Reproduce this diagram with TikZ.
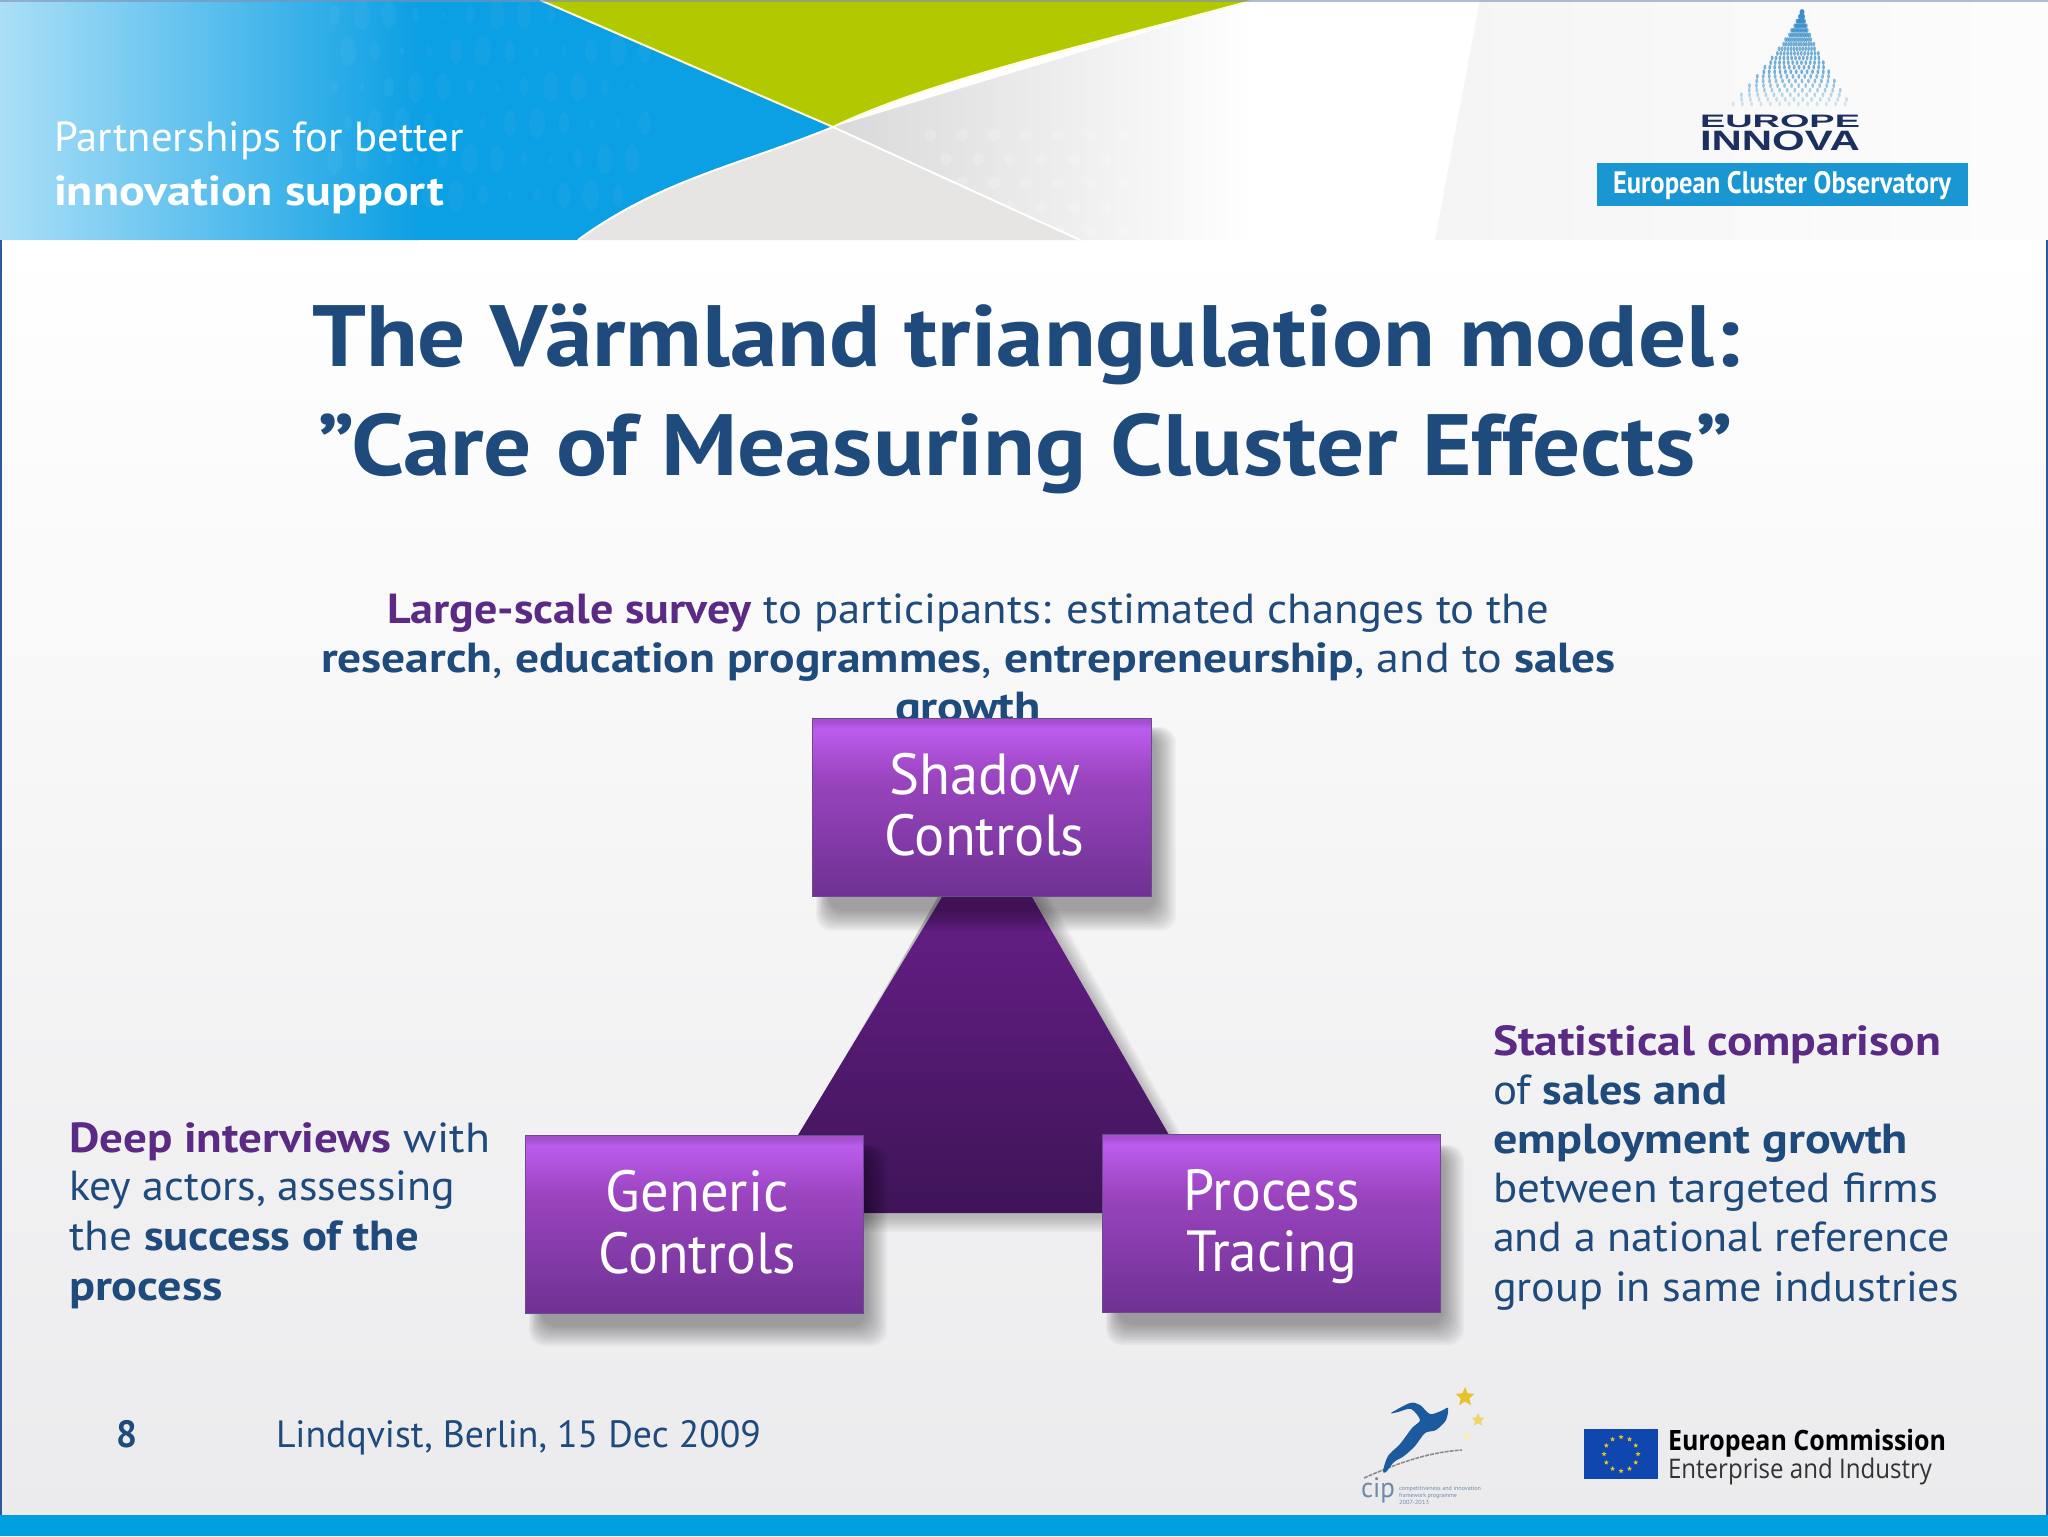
\documentclass[tikz,border=0pt]{standalone}
\usepackage{graphicx}
\usepackage{fontspec}
\setmainfont{PT Sans}
\newfontfamily\logofont{Liberation Sans}
\newfontfamily\eufont{Open Sans}
\usetikzlibrary{shapes.geometric}
\definecolor{navy}{HTML}{1F4A7C}
\definecolor{plum}{HTML}{5A2A84}
\definecolor{skyb}{HTML}{0B9FE3}
\definecolor{skyl}{HTML}{ABDFF7}
\definecolor{limeg}{HTML}{B2C800}
\definecolor{wedge}{HTML}{E6E5E3}
\definecolor{bandb}{HTML}{009FDF}
\definecolor{obsb}{HTML}{1A96D2}
\definecolor{pagebot}{HTML}{EBEBED}
\definecolor{siderule}{HTML}{2B5A9F}
\definecolor{toprule}{HTML}{8090B5}
\definecolor{bxt}{HTML}{BC5CEE}
\definecolor{bxs}{HTML}{A350CC}
\definecolor{bxm}{HTML}{9A44BE}
\definecolor{bxb}{HTML}{6E3292}
\definecolor{bxe}{HTML}{6A4A90}
\definecolor{trit}{HTML}{661F87}
\definecolor{trib}{HTML}{3E1457}
\definecolor{logod}{HTML}{1C2F5E}
\definecolor{dropb}{HTML}{3A8FC9}
\definecolor{flagb}{HTML}{0F47AF}
\definecolor{stary}{HTML}{E8C22A}
\definecolor{cipb}{HTML}{1B5A9C}
\definecolor{cipg}{HTML}{6D8AA8}
\pgfdeclareverticalshading{boxsh}{100bp}{color(0bp)=(bxb); color(25bp)=(bxb); color(58bp)=(bxm); color(72bp)=(bxt); color(74bp)=(bxs); color(100bp)=(bxs)}
\newlength\fitlen
\newcommand\fitw[2]{\settowidth\fitlen{#2}\pgfmathsetmacro\fitr{(#1*0.5)/\the\fitlen}\scalebox{\fitr}[1]{#2}}
% bold runs inside mixed lines are a little wider in the reference
\newcommand\nv[1]{\scalebox{1.03}[1]{\textcolor{navy}{\bfseries #1}}}
\newcommand\pl[1]{\scalebox{1.03}[1]{\textcolor{plum}{\bfseries #1}}}
\newcommand\bl[4]{\hspace*{#1}\raisebox{#2}[\height][\depth]{\fitw{#3}{#4}}}
\newcommand\softshadow[4]{%
  \foreach \e in {0,2,...,20}{%
    \fill[black,opacity=0.035,rounded corners=8pt]
      ({#1+16-\e*0.6},{#2+16-\e*0.3}) rectangle ({#3+4+\e},{#4+14+\e});
  }}
\tikzset{
  x=0.5pt,y=-0.5pt,
  tline/.style={anchor=base west,inner sep=0pt,outer sep=0pt},
  titletxt/.style={tline,text=navy,font=\fontsize{43.5}{48}\selectfont\bfseries},
  bodytxt/.style={tline,text=navy,font=\fontsize{21}{25}\selectfont},
  headtxt/.style={tline,text=white,font=\fontsize{21}{25}\selectfont},
  boxnode/.style={draw=bxe,line width=0.4pt,shading=boxsh,text=white,align=center,
    inner sep=0pt,minimum width=#1,minimum height=89pt,
    font=\fontsize{29}{30.5}\selectfont},
}
\begin{document}
\begin{tikzpicture}
\useasboundingbox (0,0) rectangle (2048,1536);
% page background
\shade[top color=white,bottom color=pagebot] (0,240) rectangle (2048,1520);
\fill[white] (0,0) rectangle (2048,240);
% right pale panel of the banner
\shade[left color=black!4,right color=black!1] (1480,0) -- (2048,0) -- (2048,240) -- (1435,240) -- cycle;
% grey wedge area
\shade[left color=black!15,right color=white] (833,127) -- (1254,0) -- (1254,240) -- (1080,240) -- cycle;
\fill[wedge] (578,240) .. controls (660,180) and (740,165) .. (833,127) -- (1080,240) -- cycle;
\begin{scope}
  \clip (833,127) -- (1080,240) -- (1240,240) -- (1240,127) -- cycle;
  \foreach \dx in {0,...,6}{\foreach \dy in {0,...,4}{
    \fill[white,opacity=0.18] ({930+\dx*32+mod(\dy,2)*16},{135+\dy*24}) circle[radius=6];
  }}
\end{scope}
% blue area
\begin{scope}
  \clip (0,0) -- (540,0) -- (833,127) .. controls (740,165) and (660,180) .. (578,240) -- (0,240) -- cycle;
  \fill[skyb] (0,0) rectangle (840,240);
  \shade[left color=skyl,right color=skyb] (0,0) rectangle (420,240);
  \foreach \dx in {0,...,11}{\foreach \dy in {0,...,5}{
    \pgfmathsetmacro\rx{5+3*sin(\dx*70+\dy*110)}
    \fill[white,opacity=0.04] ({335+\dx*27+mod(\dy,2)*13},{15+\dy*36}) ellipse[x radius=\rx,y radius=2*\rx];
  }}
\end{scope}
% green area
\fill[limeg] (540,0) -- (833,127) .. controls (930,80) and (1090,45) .. (1254,0) -- cycle;
\draw[white!85!yellow,line width=1pt] (540,0) -- (833,127);
\draw[white!85!yellow,line width=1pt] (833,127) .. controls (930,80) and (1090,45) .. (1254,0);
\draw[white,line width=1pt] (833,127) .. controls (740,165) and (660,180) .. (578,240);
\draw[white,line width=1pt] (833,127) -- (1080,240);
% top and side rules, bottom band
\fill[toprule,opacity=0.6] (0,0) rectangle (2048,2);
\fill[siderule] (0,240) rectangle (2,1520);
\fill[siderule] (2046,240) rectangle (2048,1520);
\fill[bandb] (0,1515) rectangle (2048,1536);
% banner text
\node[headtxt] (head1) at (54,151) {\fitw{410}{Partnerships for better}};
\node[headtxt,font=\fontsize{21}{25}\selectfont\bfseries] (head2) at (54,205) {\fitw{390}{innovation support}};
% Europe Innova logo
\foreach \r in {0,...,20}{
  \pgfmathsetmacro\yy{12+\r*4.6}
  \pgfmathsetmacro\hw{1+pow(\r/20,1.3)*55}
  \pgfmathsetmacro\cx{1802-\r*0.65}
  \pgfmathsetmacro\op{\r<13?0.7:0.7-(\r-13)*0.07}
  \pgfmathsetmacro\jit{mod(\r,2)*0.5}
  \foreach \k in {-6,...,6}{
    \pgfmathsetmacro\xx{\cx+(\k+\jit)*\hw/6}
    \fill[dropb,opacity=\op] (\xx,\yy) ellipse[x radius=1.4,y radius=2.4];
  }
}
\node[tline,text=logod,font=\logofont\fontsize{9}{10}\selectfont\bfseries] (europe) at (1700,127) {\fitw{160}{EUROPE}};
\node[tline,text=logod,font=\logofont\fontsize{14}{15}\selectfont\bfseries] (innova) at (1700,150) {\fitw{160}{INNOVA}};
\fill[obsb] (1597,163) rectangle (1968,206);
\node[tline,text=white,font=\fontsize{15.5}{18}\selectfont\bfseries] (obs) at (1613,193) {\fitw{338}{European Cluster Observatory}};
% title
\node[titletxt] (title1) at (312,366) {\fitw{1428}{The Värmland triangulation model:}};
\node[titletxt] (title2) at (317,475) {\fitw{1416}{”Care of Measuring Cluster Effects”}};
% survey text
\node[bodytxt] (sv1) at (387,623) {\fitw{1162}{\pl{Large-scale survey} to participants: estimated changes to the}};
\node[bodytxt] (sv2) at (321,672) {\fitw{1295}{\nv{research}, \nv{education programmes}, \nv{entrepreneurship}, and to \nv{sales}}};
\node[bodytxt] (sv3) at (895,721) {\fitw{146}{\nv{growth}}};
% triangle with its soft shadow
\foreach \e in {0,2,...,14}{
  \fill[black,opacity=0.03] (942,890) -- ({1032+\e},890) -- ({1169+\e*0.9},1135) -- ({1218+\e*0.9},{1218+\e}) -- (750,{1218+\e}) -- cycle;
}
\shade[top color=trit,bottom color=trib] (942,897) -- (1032,897) -- (1169,1135) -- (1218,1213) -- (750,1213) -- (798,1135) -- cycle;
\softshadow{812}{717}{1152}{897}
\softshadow{525}{1135}{863}{1312}
\softshadow{1102}{1135}{1440}{1311}
% boxes
\node[boxnode=169.5pt] (shadowbox) at (982,807) {\bl{2.6pt}{1.3pt}{191}{Shadow}\\\bl{2.6pt}{1.3pt}{200}{Controls}};
\node[boxnode=169pt] (genericbox) at (694,1224) {\bl{3.3pt}{1.3pt}{183}{Generic}\\\bl{3.3pt}{0.8pt}{198}{Controls}};
\node[boxnode=169pt] (processbox) at (1271,1223) {\bl{0.6pt}{-2pt}{177}{Process}\\\bl{0.6pt}{-2pt}{171}{Tracing}};
% left text
\node[bodytxt] (lf1) at (69,1152) {\fitw{421}{\pl{Deep interviews} with}};
\node[bodytxt] (lf2) at (69,1200) {\fitw{386}{key actors, assessing}};
\node[bodytxt] (lf3) at (69,1250) {\fitw{350}{the \nv{success of the}}};
\node[bodytxt] (lf4) at (69,1300) {\fitw{154}{\nv{process}}};
% right text
\node[bodytxt] (rt1) at (1493,1055) {\fitw{448}{\pl{Statistical comparison}}};
\node[bodytxt] (rt2) at (1493,1104) {\fitw{234}{of \nv{sales and}}};
\node[bodytxt] (rt3) at (1493,1153) {\fitw{415}{\nv{employment growth}}};
\node[bodytxt] (rt4) at (1493,1202) {\fitw{445}{between targeted firms}};
\node[bodytxt] (rt5) at (1493,1251) {\fitw{457}{and a national reference}};
\node[bodytxt] (rt6) at (1493,1301) {\fitw{466}{group in same industries}};
% footer
\node[bodytxt,font=\fontsize{19}{22}\selectfont\bfseries] (pageno) at (116,1447) {\fitw{21}{8}};
\node[bodytxt,font=\fontsize{19}{22}\selectfont] (foot) at (276,1447) {\fitw{485}{Lindqvist, Berlin, 15 Dec 2009}};
% CIP logo
\draw[black!45,line width=0.8pt,dash pattern=on 2pt off 0.5pt] (1364,1478) .. controls (1400,1462) and (1430,1452) .. (1462,1450);
\fill[cipb] plot[smooth cycle,tension=0.5] coordinates {(1391,1413) (1410,1403) (1420,1405) (1430,1414) (1441,1411) (1448,1408) (1446,1420) (1436,1430) (1425,1433) (1415,1446) (1404,1456) (1394,1462) (1386,1472) (1383,1471) (1388,1456) (1400,1444) (1412,1428) (1420,1420) (1411,1409) (1398,1412)};
\node[star,star points=5,star point ratio=2.2,fill=stary,inner sep=0pt,minimum size=10pt] (star1) at (1465,1397) {};
\node[star,star points=5,star point ratio=2.2,fill=stary!70!white,inner sep=0pt,minimum size=7pt] (star2) at (1478,1420) {};
\node[star,star points=5,star point ratio=2.2,fill=stary!30!white,inner sep=0pt,minimum size=5pt] (star3) at (1467,1436) {};
\node[tline,text=cipg,font=\fontsize{14}{15}\selectfont] (cip) at (1361,1497) {\fitw{34}{cip}};
\node[tline,text=cipg,font=\fontsize{3}{4}\selectfont] (cipa) at (1399,1490) {\fitw{82}{competitiveness and innovation}};
\node[tline,text=cipg,font=\fontsize{3}{4}\selectfont] (cipb) at (1399,1497) {\fitw{58}{framework programme}};
\node[tline,text=cipg,font=\fontsize{3}{4}\selectfont] (cipc) at (1399,1504) {\fitw{30}{2007-2013}};
% EU flag
\fill[flagb] (1584,1429) rectangle (1658,1479);
\foreach \a in {0,30,...,330}{
  \node[star,star points=5,star point ratio=2.3,fill=stary,inner sep=0pt,minimum size=2.6pt] (fs\a) at ({1621+17*cos(\a)},{1454+17*sin(\a)}) {};
}
\node[tline,text=black,font=\eufont\fontsize{14}{16}\selectfont\bfseries] (ec1) at (1668,1450) {\fitw{278}{European Commission}};
\node[tline,text=black!80,font=\eufont\fontsize{13.5}{16}\selectfont] (ec2) at (1668,1478) {\fitw{264}{Enterprise and Industry}};
\end{tikzpicture}
\end{document}
